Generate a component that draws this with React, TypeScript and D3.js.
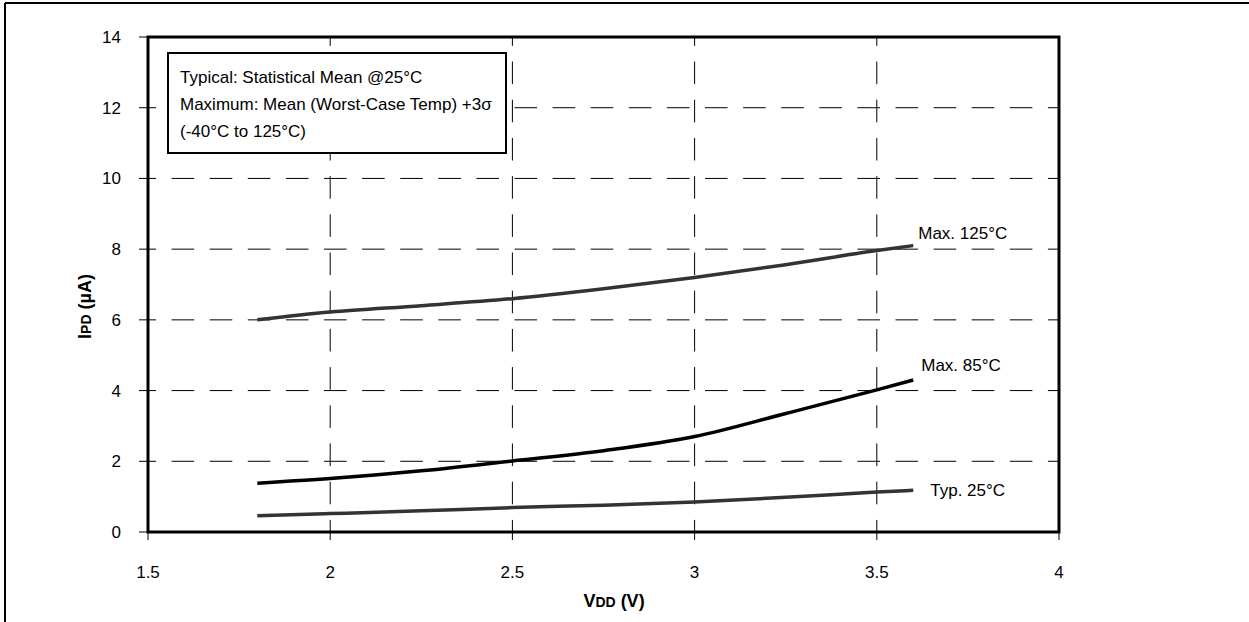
import React from "react";
import * as d3 from "d3";

const vdd = [1.8, 2.0, 2.25, 2.5, 2.75, 3.0, 3.25, 3.5, 3.6];
const max125 = [6.0, 6.22, 6.4, 6.6, 6.88, 7.2, 7.56, 7.96, 8.1];
const max85 = [1.38, 1.51, 1.73, 2.01, 2.3, 2.7, 3.35, 4.02, 4.3];
const typ25 = [0.46, 0.52, 0.6, 0.69, 0.76, 0.85, 0.98, 1.13, 1.18];
const seriesNames = ["Max. 125°C", "Max. 85°C", "Typ. 25°C"];
const seriesColors = ["#333333", "#000000", "#333333"];
const xTicks = [1.5, 2, 2.5, 3, 3.5, 4];
const yTicks = [0, 2, 4, 6, 8, 10, 12, 14];
const legendLines = [
  "Typical: Statistical Mean @25°C",
  "Maximum: Mean (Worst-Case Temp) +3σ",
  "(-40°C to 125°C)",
];

const W = 1249;
const H = 622;
const left = 148;
const right = 1059;
const top = 37;
const bottom = 532;
const FONT = "'Liberation Sans', Arial, Helvetica, sans-serif";

export default function App() {
  const x = d3.scaleLinear().domain([1.5, 4]).range([left, right]);
  const y = d3.scaleLinear().domain([0, 14]).range([bottom, top]);
  const line = d3
    .line<[number, number]>()
    .x((d) => x(d[0]))
    .y((d) => y(d[1]))
    .curve(d3.curveMonotoneX);
  const allSeries = [max125, max85, typ25];
  const paths = allSeries.map((s) => line(vdd.map((v, i) => [v, s[i]] as [number, number])) || "");

  const gridX = xTicks.filter((t) => t > 1.5 && t < 4);
  const gridY = yTicks.filter((t) => t > 0 && t < 14);

  const labelPos = [
    { dx: 5, dy: -7 },
    { dx: 8, dy: -9 },
    { dx: 17, dy: 6 },
  ];

  return (
    <svg
      width={W}
      height={H}
      style={{ position: "absolute", left: 0, top: 0, background: "#fff" }}
      fontFamily={FONT}
    >
      <rect x={0} y={0} width={W} height={H} fill="#fff" />
      {/* outer frame (clipped) */}
      <line x1={5} y1={3} x2={W} y2={3} stroke="#000" strokeWidth={2} />
      <line x1={5} y1={3} x2={5} y2={H} stroke="#000" strokeWidth={2} />

      {/* horizontal gridlines, drawn right to left */}
      {gridY.map((t) => (
        <line
          key={"gy" + t}
          x1={right}
          y1={y(t)}
          x2={left}
          y2={y(t)}
          stroke="#000"
          strokeWidth={1}
          strokeDasharray="22.6 15.5"
          strokeDashoffset={11.5}
        />
      ))}
      {/* vertical gridlines, drawn bottom to top */}
      {gridX.map((t) => (
        <line
          key={"gx" + t}
          x1={x(t)}
          y1={bottom}
          x2={x(t)}
          y2={top}
          stroke="#000"
          strokeWidth={1}
          strokeDasharray="22.6 15.6"
          strokeDashoffset={10.5}
        />
      ))}

      {/* ticks */}
      {yTicks.map((t) => (
        <line key={"ty" + t} x1={left - 9} y1={y(t)} x2={left} y2={y(t)} stroke="#000" strokeWidth={1} />
      ))}
      {xTicks.map((t) => (
        <line key={"tx" + t} x1={x(t)} y1={bottom} x2={x(t)} y2={bottom + 8} stroke="#000" strokeWidth={1} />
      ))}

      {/* tick labels */}
      {yTicks.map((t) => (
        <text key={"ly" + t} x={121} y={y(t)} dy="0.35em" textAnchor="end" fontSize={17} fill="#000">
          {t}
        </text>
      ))}
      {xTicks.map((t) => (
        <text key={"lx" + t} x={x(t)} y={578} textAnchor="middle" fontSize={17} fill="#000">
          {t}
        </text>
      ))}

      {/* series */}
      {paths.map((d, i) => (
        <path key={"p" + i} d={d} fill="none" stroke={seriesColors[i]} strokeWidth={3.5} strokeLinecap="butt" />
      ))}
      {allSeries.map((s, i) => (
        <text
          key={"sl" + i}
          x={x(vdd[vdd.length - 1]) + labelPos[i].dx}
          y={y(s[s.length - 1]) + labelPos[i].dy}
          fontSize={17}
          fill="#000"
        >
          {seriesNames[i]}
        </text>
      ))}

      {/* legend box */}
      <rect x={168} y={53} width={338} height={100} fill="#fff" stroke="#000" strokeWidth={2} />
      {legendLines.map((l, i) => (
        <text key={"lg" + i} x={180} y={83 + i * 27} fontSize={17} fill="#000">
          {l}
        </text>
      ))}

      {/* plot frame */}
      <rect x={left} y={top} width={right - left} height={bottom - top} fill="none" stroke="#000" strokeWidth={3} />

      {/* axis titles */}
      <text x={614} y={607} textAnchor="middle" fontSize={18} fontWeight="bold" fill="#000">
        V<tspan fontSize={14}>DD</tspan> (V)
      </text>
      <text
        transform={`translate(91, ${(top + bottom) / 2 + 22}) rotate(-90)`}
        textAnchor="middle"
        fontSize={18}
        fontWeight="bold"
        fill="#000"
      >
        I<tspan fontSize={14}>PD</tspan> (µA)
      </text>
    </svg>
  );
}
